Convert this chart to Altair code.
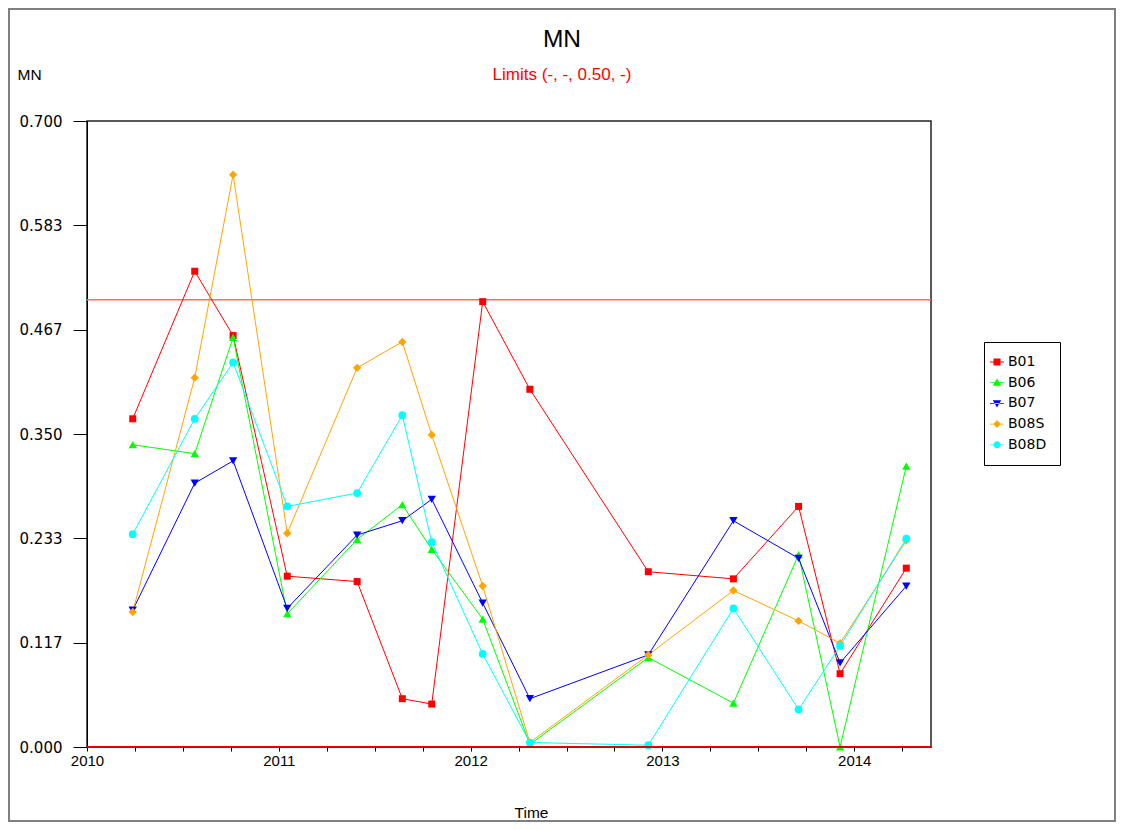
import altair as alt
import pandas as pd

# ---- data ----
series = ["B01", "B06", "B07", "B08S", "B08D"]
dates = ["2010-03-29", "2010-07-25", "2010-10-06", "2011-01-17", "2011-05-30",
         "2011-08-24", "2011-10-19", "2012-01-24", "2012-04-23", "2012-12-05",
         "2013-05-16", "2013-09-17", "2013-12-05", "2014-04-10"]
b01 = [0.367, 0.532, 0.460, 0.191, 0.185, 0.054, 0.048, 0.498, 0.400, 0.196, 0.188, 0.269, 0.082, 0.200]
b06 = [0.338, 0.328, 0.458, 0.149, 0.232, 0.271, 0.221, 0.143, 0.003, 0.100, 0.049, 0.215, 0.000, 0.314]
b07 = [0.153, 0.295, 0.320, 0.155, 0.237, 0.253, 0.277, 0.161, 0.054, 0.103, 0.253, 0.211, 0.094, 0.180]
b08s = [0.151, 0.413, 0.640, 0.239, 0.424, 0.453, 0.349, 0.180, 0.005, 0.103, 0.175, 0.141, 0.116, 0.231]
b08d = [0.238, 0.367, 0.430, 0.269, 0.284, 0.371, 0.229, 0.104, 0.005, 0.002, 0.155, 0.042, 0.113, 0.233]
upper_limit = [0.50]
zero_line = [0.0]
y_tick_values = [round(i * 0.7 / 6, 6) for i in range(7)]
x_tick_values = [2010 + 0.25 * i for i in range(18)]

# ---- styles ----
colors = ["#ff0000", "#00ff00", "#0000ff", "#ffa500", "#00ffff"]
shapes = ["square", "triangle-up", "triangle-down", "diamond", "circle"]
sizes = [49, 70, 70, 70, 60]
line_part = "M-1,-0.06H1V0.06H-1Z"
legend_paths = [
    line_part + "M-0.5,-0.5H0.5V0.5H-0.5Z",
    line_part + "M0,-0.6L0.6,0.45L-0.6,0.45Z",
    line_part + "M0,0.6L0.6,-0.45L-0.6,-0.45Z",
    line_part + "M0,-0.55L0.55,0L0,0.55L-0.55,0Z",
    line_part + "M0.5,0A0.5,0.5,0,1,1,-0.5,0A0.5,0.5,0,1,1,0.5,0Z",
]

rows = []
for s, vals in zip(series, [b01, b06, b07, b08s, b08d]):
    for d, v in zip(dates, vals):
        ts = pd.Timestamp(d)
        dec = ts.year + (ts.dayofyear - 1) / (366 if ts.is_leap_year else 365)
        rows.append({"series": s, "t": dec, "value": v, "date": d})
df = pd.DataFrame(rows)

W, H = 844, 626

xscale = alt.Scale(domain=[2010, 2014.4], nice=False, zero=False)
yscale = alt.Scale(domain=[0, 0.7], nice=False, zero=False)

x_axis = alt.Axis(values=x_tick_values,
                  labelExpr="datum.value % 1 == 0 ? format(datum.value, 'd') : ''",
                  tickSize=4, tickColor="black", domainColor="black", grid=False,
                  labelFont="Liberation Sans", labelFontSize=15, labelColor="black",
                  labelPadding=2, labelFlush=False, labelOverlap=False,
                  titleX=444, titleY=70, titleFont="Liberation Sans", titleFontSize=15.5,
                  titleFontWeight="normal", titleColor="black", titleBaseline="alphabetic",
                  titleAlign="center")
y_axis = alt.Axis(values=y_tick_values, format=".3f",
                  tickSize=14, tickColor="black", domainColor="black", grid=False,
                  labelFont="DejaVu Sans", labelFontSize=15, labelColor="black",
                  labelPadding=11, labelFlush=False, labelOverlap=False,
                  titleAngle=0, titleX=-70, titleY=-42, titleAlign="left",
                  titleBaseline="alphabetic", titleFont="Liberation Sans",
                  titleFontSize=15.5, titleFontWeight="normal", titleColor="black")

x_enc = alt.X("t:Q", scale=xscale, axis=x_axis, title="Time")
y_enc = alt.Y("value:Q", scale=yscale, axis=y_axis, title="MN")

base = alt.Chart(df)

limit_rule = alt.Chart(pd.DataFrame({"value": upper_limit})).mark_rule(
    color="#ff6a6a", strokeWidth=1.5).encode(y=y_enc)
zero_rule = alt.Chart(pd.DataFrame({"value": zero_line})).mark_rule(
    color="#e00000", strokeWidth=2).encode(y=y_enc)

line_layers = []
point_layers = []
for s, c, shp, sz in zip(series, colors, shapes, sizes):
    sub = base.transform_filter(alt.datum.series == s)
    line_layers.append(
        sub.mark_line(strokeWidth=1, color=c).encode(x=x_enc, y=y_enc, order="t:Q")
    )
    point_layers.append(
        sub.mark_point(filled=True, shape=shp, size=sz, opacity=1, color=c)
        .encode(x=x_enc, y=y_enc)
    )

legend = alt.Legend(title=None, orient="none", legendX=897, legendY=221,
                    padding=13, symbolSize=196, symbolStrokeWidth=0,
                    symbolOffset=-7,
                    labelFont="DejaVu Sans", labelFontSize=14, labelColor="black",
                    labelOffset=4, rowPadding=6.7, strokeColor="black", fillColor="white",
                    labelExpr="datum.label + '\u00a0\u00a0\u00a0\u00a0\u00a0\u00a0'")
legend_layer = base.transform_filter("false").mark_point(filled=True, opacity=1).encode(
    x=x_enc, y=y_enc,
    color=alt.Color("series:N", scale=alt.Scale(domain=series, range=colors), legend=legend),
    shape=alt.Shape("series:N", scale=alt.Scale(domain=series, range=legend_paths), legend=legend),
)

title = alt.Chart(pd.DataFrame({"label": ["MN"]})).mark_text(
    font="Liberation Sans", fontSize=24.5, color="black", align="center",
    baseline="alphabetic").encode(text="label:N", x=alt.value(475), y=alt.value(-74))
subtitle = alt.Chart(pd.DataFrame({"label": ["Limits (-, -, 0.50, -)"]})).mark_text(
    font="Liberation Sans", fontSize=17, color="#ff0000", align="center",
    baseline="alphabetic").encode(text="label:N", x=alt.value(475), y=alt.value(-41))
border = alt.Chart(pd.DataFrame({"a": [0]})).mark_rect(
    fillOpacity=0, stroke="#808080", strokeWidth=2).encode(
    x=alt.value(-78), x2=alt.value(1028), y=alt.value(-112), y2=alt.value(700))

chart = alt.layer(
    legend_layer, border, limit_rule, *line_layers, *point_layers, zero_rule, title, subtitle
).properties(
    width=W, height=H,
    autosize=alt.AutoSizeParams(type="none"),
    padding={"left": 79, "top": 113, "right": 185, "bottom": 75},
).configure(
    background="white",
    view=alt.ViewConfig(stroke="#222222", strokeWidth=1.5),
)

chart.save("out.html", embed_options={"renderer": "svg", "actions": False})
